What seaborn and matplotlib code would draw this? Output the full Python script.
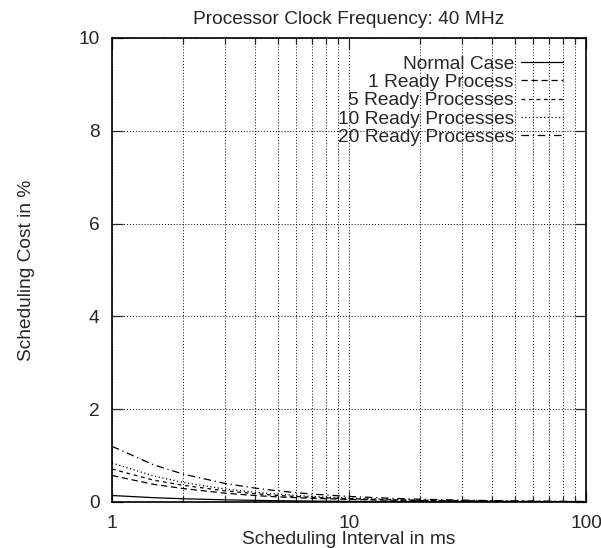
import numpy as np
import pandas as pd
import matplotlib
matplotlib.use("Agg")
import matplotlib.pyplot as plt
import matplotlib.ticker as mticker
import seaborn as sns

# -------------------------------
# Data
# -------------------------------
interval_ms = [1, 1.5, 2, 3, 4, 5, 7, 10, 15, 20, 30, 50, 70, 100]

normal_case = [0.14, 0.093, 0.07, 0.047, 0.035, 0.028, 0.02, 0.014, 0.009, 0.007, 0.005, 0.003, 0.002, 0.0014]
ready_1 = [0.57, 0.38, 0.29, 0.19, 0.14, 0.11, 0.08, 0.057, 0.038, 0.029, 0.019, 0.011, 0.008, 0.006]
ready_5 = [0.71, 0.47, 0.36, 0.24, 0.18, 0.14, 0.10, 0.071, 0.047, 0.036, 0.024, 0.014, 0.010, 0.007]
ready_10 = [0.84, 0.56, 0.42, 0.28, 0.21, 0.17, 0.12, 0.084, 0.056, 0.042, 0.028, 0.017, 0.012, 0.008]
ready_20 = [1.20, 0.80, 0.60, 0.40, 0.30, 0.24, 0.17, 0.12, 0.08, 0.06, 0.04, 0.024, 0.017, 0.012]

series_names = ["Normal Case", "1 Ready Process", "5 Ready Processes",
                "10 Ready Processes", "20 Ready Processes"]
series_values = [normal_case, ready_1, ready_5, ready_10, ready_20]

# long format table for seaborn
df = pd.DataFrame({
    "interval": interval_ms * len(series_names),
    "cost": [v for vals in series_values for v in vals],
    "series": [name for name in series_names for _ in interval_ms],
})

# -------------------------------
# Style
# -------------------------------
sns.set_style("ticks")
plt.rcParams["font.family"] = ["Liberation Sans", "DejaVu Sans"]
fs = 13.8
plt.rcParams["font.size"] = fs

fig = plt.figure(figsize=(6.01, 5.48), dpi=100)
ax = fig.add_axes([112 / 601, 46 / 548, 474 / 601, 464 / 548])

dash_styles = {
    "Normal Case": "",
    "1 Ready Process": (5, 3),
    "5 Ready Processes": (3, 3),
    "10 Ready Processes": (1, 2),
    "20 Ready Processes": (6, 3, 1, 3),
}

sns.lineplot(data=df, x="interval", y="cost", hue="series", style="series",
             hue_order=series_names, style_order=series_names,
             palette=["black"] * 5, dashes=dash_styles, linewidth=0.9, ax=ax)

ax.set_xscale("log")
ax.set_xlim(1, 100)
ax.set_ylim(0, 10)
ax.set_yticks([0, 2, 4, 6, 8, 10])
ax.xaxis.set_major_locator(mticker.FixedLocator([1, 10, 100]))
ax.xaxis.set_major_formatter(mticker.FixedFormatter(["1", "10", "100"]))
ax.xaxis.set_minor_locator(mticker.LogLocator(base=10, subs=np.arange(2, 10)))
ax.xaxis.set_minor_formatter(mticker.NullFormatter())

ax.grid(True, which="both", axis="x", color="black", linestyle=(0, (1, 2)), linewidth=0.7)
ax.grid(True, which="major", axis="y", color="black", linestyle=(0, (1, 2)), linewidth=0.7)

ax.tick_params(which="major", direction="in", length=8, width=0.9,
               top=True, right=True, labelsize=fs, pad=9)
ax.tick_params(which="minor", direction="in", length=4, width=0.9, top=True, right=True)
for s in ax.spines.values():
    s.set_linewidth(1.2)
    s.set_color("black")

ax.set_title("Processor Clock Frequency: 40 MHz", fontsize=fs, pad=10)
ax.set_xlabel("Scheduling Interval in ms", fontsize=fs, labelpad=0)
ax.set_ylabel("Scheduling Cost in %", fontsize=fs, labelpad=31)

leg = ax.legend(loc="upper right", bbox_to_anchor=(0.951, 0.963), frameon=False,
                markerfirst=False, fontsize=fs, labelspacing=0.05, handlelength=2.2,
                handletextpad=0.35, borderpad=0, borderaxespad=0)
leg.set_title(None)

fig.savefig("out.png", dpi=100)
